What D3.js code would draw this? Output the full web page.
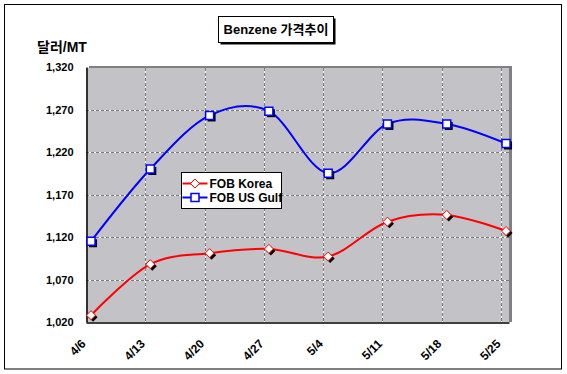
<!DOCTYPE html>
<html>
<head>
<meta charset="utf-8">
<script src="https://cdn.jsdelivr.net/npm/d3@7"></script>
<style>
  body { margin: 0; background: #fff; }
  svg { display: block; font-family: 'Liberation Sans', Arial, 'Noto Sans CJK KR', sans-serif; }
</style>
</head>
<body>
<svg id="chart" width="567" height="374"></svg>
<script>
// ── Data ───────────────────────────────────────────────
const weeks = ['4/6', '4/13', '4/20', '4/27', '5/4', '5/11', '5/18', '5/25'];
const fobKorea = [1028, 1088, 1101, 1106, 1097, 1138, 1146, 1127];
const fobUsGulf = [1115, 1200, 1263, 1268, 1195, 1253, 1253, 1230];
const yTicks = [1020, 1070, 1120, 1170, 1220, 1270, 1320];

const series = [
  { name: 'FOB Korea', values: fobKorea, color: '#ff0000', marker: 'diamond' },
  { name: 'FOB US Gulf', values: fobUsGulf, color: '#0000ff', marker: 'square' },
];

// ── Layout ─────────────────────────────────────────────
const plot = { left: 86, right: 509, top: 67, bottom: 322 };
const pointShift = 0.085; // points sit a little right of each tick line

const svg = d3.select('#chart');

const x = d3.scaleLinear()
  .domain([0, 7.135])
  .range([plot.left, plot.right]);
const y = d3.scaleLinear()
  .domain([1020, 1320])
  .range([plot.bottom, plot.top]);

// outer frame
svg.append('rect')
  .attr('x', 4.5).attr('y', 4.5)
  .attr('width', 557).attr('height', 364.5)
  .attr('fill', '#fff').attr('stroke', '#000');

// plot background (3D-ish grey edge top/right)
svg.append('rect')
  .attr('x', plot.left + 3).attr('y', plot.top - 1)
  .attr('width', plot.right - plot.left).attr('height', plot.bottom - plot.top + 1)
  .attr('fill', '#808080');
svg.append('rect')
  .attr('x', plot.left).attr('y', plot.top + 1)
  .attr('width', plot.right - plot.left).attr('height', plot.bottom - plot.top - 1)
  .attr('fill', '#c3c2c6');

// ── Grid ───────────────────────────────────────────────
const grid = svg.append('g');
yTicks.slice(1, -1).forEach(v => {
  grid.append('line')
    .attr('x1', plot.left).attr('x2', plot.right)
    .attr('y1', Math.round(y(v)) + 0.5).attr('y2', Math.round(y(v)) + 0.5)
    .attr('stroke', '#fff');
  grid.append('line')
    .attr('x1', plot.left).attr('x2', plot.right)
    .attr('y1', Math.round(y(v)) + 0.5).attr('y2', Math.round(y(v)) + 0.5)
    .attr('stroke', '#7a7a7a').attr('stroke-dasharray', '3,2');
});
d3.range(1, weeks.length).forEach(i => {
  grid.append('line')
    .attr('x1', Math.round(x(i)) + 0.5).attr('x2', Math.round(x(i)) + 0.5)
    .attr('y1', plot.top + 1).attr('y2', plot.bottom)
    .attr('stroke', '#fff');
  grid.append('line')
    .attr('x1', Math.round(x(i)) + 0.5).attr('x2', Math.round(x(i)) + 0.5)
    .attr('y1', plot.top + 1).attr('y2', plot.bottom)
    .attr('stroke', '#7a7a7a').attr('stroke-dasharray', '3,2');
});

// ── Axes ───────────────────────────────────────────────
const yAxis = svg.append('g')
  .attr('transform', `translate(${plot.left + 0.5},0)`)
  .call(d3.axisLeft(y).tickValues(yTicks).tickSize(0).tickPadding(13).tickFormat(d3.format(',')));
yAxis.select('.domain').attr('stroke', '#000').attr('stroke-width', 1.5);
yAxis.selectAll('text')
  .attr('font-size', 11).attr('font-weight', 'bold')
  .attr('font-family', "'Liberation Sans', Arial, sans-serif")
  .attr('fill', '#000');

const xAxis = svg.append('g')
  .attr('transform', `translate(0,${plot.bottom + 0.5})`)
  .call(d3.axisBottom(x).tickValues(d3.range(weeks.length)).tickSize(0).tickFormat(i => weeks[i]));
xAxis.select('.domain').attr('stroke', '#000').attr('stroke-width', 1.5);
xAxis.selectAll('text')
  .attr('font-size', 12).attr('font-weight', 'bold')
  .attr('font-family', "'Liberation Sans', Arial, sans-serif")
  .attr('fill', '#000')
  .attr('text-anchor', 'end')
  .attr('dy', 0)
  .attr('y', 0)
  .attr('transform', 'translate(0,22) rotate(-45)');

// ── Lines and markers ──────────────────────────────────
const line = d3.line()
  .x((d, i) => x(i + pointShift))
  .y(d => y(d))
  .curve(d3.curveCatmullRom.alpha(0));

series.forEach(s => {
  svg.append('path')
    .attr('d', line(s.values))
    .attr('fill', 'none')
    .attr('stroke', s.color)
    .attr('stroke-width', 2);
});

const diamond = r => `M0,${-r}L${r},0L0,${r}L${-r},0Z`;
const square = r => `M${-r},${-r}H${r}V${r}H${-r}Z`;

function drawMarker(gSel, s, shadow) {
  const shape = s.marker === 'diamond' ? diamond(4.5) : square(4);
  if (shadow) {
    gSel.append('path').attr('d', shape)
      .attr('transform', 'translate(2,2)')
      .attr('fill', '#000');
  }
  gSel.append('path').attr('d', shape)
    .attr('fill', '#fff')
    .attr('stroke', s.color)
    .attr('stroke-width', s.marker === 'diamond' ? 1 : 1.5);
}

series.forEach(s => {
  svg.append('g').selectAll('g')
    .data(s.values)
    .join('g')
    .attr('transform', (d, i) => `translate(${x(i + pointShift)},${y(d)})`)
    .each(function () { drawMarker(d3.select(this), s, true); });
});

// ── Title ──────────────────────────────────────────────
svg.append('rect')
  .attr('x', 220.5).attr('y', 18.5).attr('width', 115).attr('height', 26).attr('fill', '#000');
svg.append('rect')
  .attr('x', 218.5).attr('y', 16.5).attr('width', 115).attr('height', 26)
  .attr('fill', '#fff').attr('stroke', '#000');
svg.append('text')
  .attr('x', 276).attr('y', 34)
  .attr('text-anchor', 'middle')
  .attr('font-size', 13).attr('font-weight', 'bold')
  .text('Benzene 가격추이');

// y unit label
svg.append('text')
  .attr('x', 37).attr('y', 52)
  .attr('font-size', 14).attr('font-weight', 'bold')
  .text('달러/MT');

// ── Legend ─────────────────────────────────────────────
const legend = svg.append('g').attr('transform', 'translate(181.5,172.5)');
legend.append('rect')
  .attr('width', 100).attr('height', 36)
  .attr('fill', '#fff').attr('stroke', '#000');
series.forEach((s, i) => {
  const row = legend.append('g').attr('transform', `translate(0,${11 + i * 14})`);
  row.append('line')
    .attr('x1', 1).attr('x2', 26)
    .attr('stroke', s.color).attr('stroke-width', 2);
  drawMarker(row.append('g').attr('transform', 'translate(13.5,0)'), s, false);
  row.append('text')
    .attr('x', 28).attr('y', 4.5)
    .attr('font-size', 12).attr('font-weight', 'bold')
    .text(s.name);
});
</script>
</body>
</html>
